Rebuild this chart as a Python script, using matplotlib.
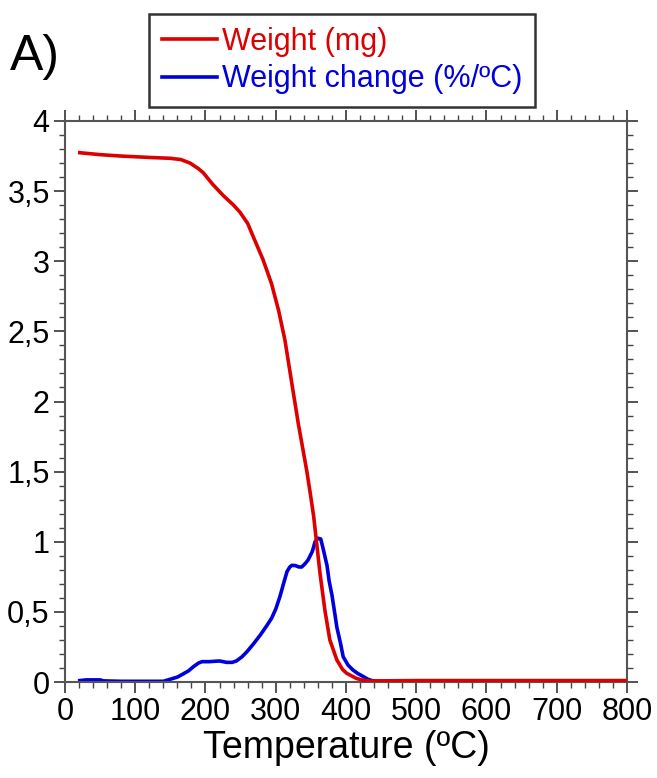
import matplotlib
matplotlib.use("Agg")
import matplotlib.pyplot as plt
from matplotlib.ticker import MultipleLocator, FuncFormatter

plt.rcParams['font.family'] = ['Liberation Sans', 'DejaVu Sans']

# weight (mg) vs temperature
temp_w = [21, 50, 80, 121, 150, 165, 178, 190, 197, 210, 225, 240, 249, 260,
          268, 282, 294, 304, 313, 320, 332, 344, 349, 354, 358, 363, 370, 377,
          387, 395, 401, 415, 425, 435, 445, 500, 600, 700, 800]
weight = [3.774, 3.76, 3.75, 3.74, 3.734, 3.725, 3.70, 3.66, 3.63, 3.55, 3.47,
          3.40, 3.35, 3.27, 3.175, 3.01, 2.84, 2.65, 2.44, 2.22, 1.845, 1.51,
          1.35, 1.18, 1.00, 0.775, 0.51, 0.30, 0.157, 0.09, 0.062, 0.025,
          0.012, 0.006, 0.008, 0.01, 0.01, 0.01, 0.01]

# weight change (%/ºC) vs temperature
temp_d = [21, 30, 50, 55, 80, 120, 140, 150, 160, 168, 176, 183, 190, 195, 205,
          220, 230, 238, 244, 252, 259, 268, 278, 287, 294, 300, 306, 311, 316,
          320, 323, 328, 333, 337, 342, 346, 352, 356, 360, 364, 367, 373, 376,
          380, 384, 387, 392, 396, 403, 410, 417, 425, 431, 437, 445, 500, 600,
          700, 800]
dweight = [0.01, 0.015, 0.015, 0.008, 0.005, 0.005, 0.005, 0.02, 0.035, 0.057,
           0.08, 0.11, 0.135, 0.145, 0.145, 0.15, 0.14, 0.14, 0.15, 0.18, 0.216,
           0.27, 0.335, 0.40, 0.454, 0.52, 0.61, 0.70, 0.787, 0.82, 0.832, 0.83,
           0.82, 0.82, 0.845, 0.87, 0.93, 1.00, 1.025, 1.02, 0.96, 0.83, 0.72,
           0.62, 0.49, 0.39, 0.28, 0.18, 0.12, 0.085, 0.06, 0.038, 0.02, 0.01,
           0.005, 0.005, 0.005, 0.005, 0.005]

fig = plt.figure(figsize=(6.57, 7.78), dpi=100)
ax = fig.add_axes([65/657, 96/778, 562/657, 561/778])

ax.plot(temp_d, dweight, color='#0000dd', lw=2.6, zorder=2, label='Weight change (%/ºC)')
ax.plot(temp_w, weight, color='#dd0000', lw=2.6, zorder=3, label='Weight (mg)')

ax.set_xlim(0, 800)
ax.set_ylim(0, 4)
ax.xaxis.set_major_locator(MultipleLocator(100))
ax.xaxis.set_minor_locator(MultipleLocator(20))
ax.yaxis.set_major_locator(MultipleLocator(0.5))
ax.yaxis.set_minor_locator(MultipleLocator(0.1))
ax.yaxis.set_major_formatter(FuncFormatter(lambda v, p: ('%g' % v).replace('.', ',')))

ax.tick_params(which='both', direction='out', top=True, right=True,
               color='#444444', labelsize=22, pad=3)
ax.tick_params(which='major', length=8, width=1.3)
ax.tick_params(which='minor', length=4, width=1.0)
for s in ax.spines.values():
    s.set_color('#555555')
    s.set_linewidth(1.5)

ax.set_xlabel('Temperature (ºC)', fontsize=27, labelpad=2)

h, l = ax.get_legend_handles_labels()
leg = fig.legend(h[::-1], l[::-1], loc='upper left', bbox_to_anchor=(149/657, 1 - 14/778),
                 fontsize=22, frameon=True, fancybox=False, handlelength=1.8,
                 handletextpad=0.17, borderpad=0.42, labelspacing=0.25,
                 borderaxespad=0)
leg.get_frame().set_edgecolor('black')
leg.get_frame().set_linewidth(1.8)
for t, c in zip(leg.get_texts(), ['#dd0000', '#0000dd']):
    t.set_color(c)

fig.text(10/657, 1 - 70/778, 'A)', fontsize=36, ha='left', va='baseline')

fig.savefig('out.png', dpi=100)
